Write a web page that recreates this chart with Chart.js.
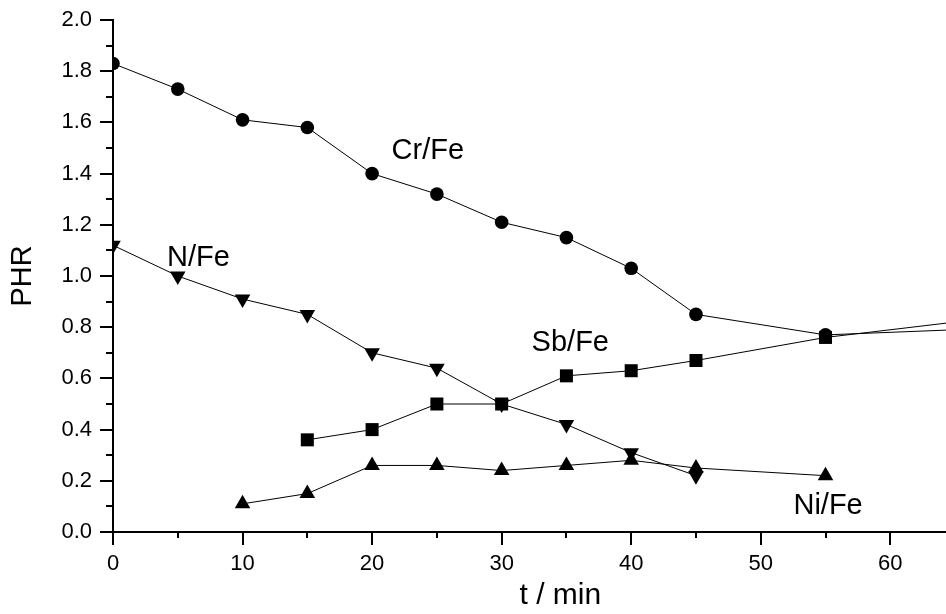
<!DOCTYPE html>
<html>
<head>
<meta charset="utf-8">
<script src="https://cdn.jsdelivr.net/npm/chart.js@4"></script>
<style>
  body { margin: 0; background: #fff; }
  #wrap { width: 946px; height: 614px; }
</style>
</head>
<body>
<div id="wrap"><canvas id="phrChart"></canvas></div>
<script>
// time points (min); last one lies past the visible axis end
const times = [0, 5, 10, 15, 20, 25, 30, 35, 40, 45, 55, 65];
const crFe = [1.83, 1.73, 1.61, 1.58, 1.40, 1.32, 1.21, 1.15, 1.03, 0.85, 0.77, 0.79];
const sbFe = [null, null, null, 0.36, 0.40, 0.50, 0.50, 0.61, 0.63, 0.67, 0.76, 0.82];
const nFe = [1.12, 1.00, 0.91, 0.85, 0.70, 0.64, 0.50, 0.42, 0.31, 0.22, null, null];
const niFe = [null, null, 0.11, 0.15, 0.26, 0.26, 0.24, 0.26, 0.28, 0.25, 0.22, null];

// series labels placed in data coordinates
const seriesLabels = ['Cr/Fe', 'N/Fe', 'Sb/Fe', 'Ni/Fe'];
const labelX = [24.3, 6.6, 35.3, 55.2];
const labelY = [1.49, 1.07, 0.74, 0.10];

const xMajor = [0, 10, 20, 30, 40, 50, 60];
const xMinor = [5, 15, 25, 35, 45, 55];
const yMajor = [0, 0.2, 0.4, 0.6, 0.8, 1.0, 1.2, 1.4, 1.6, 1.8, 2.0];
const yMinor = [0.1, 0.3, 0.5, 0.7, 0.9, 1.1, 1.3, 1.5, 1.7, 1.9];

const FONT = '"Liberation Sans", Arial, sans-serif';

function toPoints(values) {
    const pts = [];
    values.forEach((v, i) => {
        if (v !== null) pts.push({ x: times[i], y: v });
    });
    return pts;
}

function series(values, style, rotation, radius) {
    return {
        data: toPoints(values),
        borderColor: '#000',
        borderWidth: 1,
        backgroundColor: '#000',
        pointBackgroundColor: '#000',
        pointBorderWidth: 0,
        pointStyle: style,
        pointRotation: rotation,
        pointRadius: radius,
        pointHoverRadius: radius,
        tension: 0
    };
}

// ticks, axis title and series labels
const decorations = {
    id: 'decorations',
    afterDraw(chart) {
        const ctx = chart.ctx;
        const xs = chart.scales.x;
        const ys = chart.scales.y;
        const area = chart.chartArea;
        ctx.save();
        ctx.strokeStyle = '#000';
        ctx.lineWidth = 2;
        ctx.beginPath();
        yMajor.forEach(v => {
            const py = Math.round(ys.getPixelForValue(v));
            ctx.moveTo(area.left - 13, py);
            ctx.lineTo(area.left, py);
        });
        yMinor.forEach(v => {
            const py = Math.round(ys.getPixelForValue(v));
            ctx.moveTo(area.left - 7, py);
            ctx.lineTo(area.left, py);
        });
        xMajor.forEach(v => {
            const px = Math.round(xs.getPixelForValue(v));
            ctx.moveTo(px, area.bottom);
            ctx.lineTo(px, area.bottom + 13);
        });
        xMinor.forEach(v => {
            const px = Math.round(xs.getPixelForValue(v));
            ctx.moveTo(px, area.bottom);
            ctx.lineTo(px, area.bottom + 6);
        });
        ctx.stroke();

        ctx.fillStyle = '#000';
        ctx.textAlign = 'center';
        ctx.textBaseline = 'middle';
        ctx.font = '29px ' + FONT;
        seriesLabels.forEach((t, i) => {
            ctx.fillText(t, xs.getPixelForValue(labelX[i]), ys.getPixelForValue(labelY[i]));
        });
        ctx.font = '30px ' + FONT;
        ctx.fillText('t / min', area.left + (area.right - area.left) * 0.537, 596);
        ctx.restore();
    }
};

new Chart(document.getElementById('phrChart'), {
    type: 'line',
    data: {
        datasets: [
            series(crFe, 'circle', 0, 6.8),
            series(sbFe, 'rect', 0, 9.2),
            series(nFe, 'triangle', 180, 9),
            series(niFe, 'triangle', 0, 9)
        ]
    },
    options: {
        responsive: true,
        maintainAspectRatio: false,
        animation: false,
        layout: { autoPadding: false, padding: { left: 0, right: 0, top: 20, bottom: 0 } },
        plugins: {
            legend: { display: false },
            tooltip: { enabled: false }
        },
        scales: {
            x: {
                type: 'linear',
                min: 0,
                max: 64.3,
                afterFit: (scale) => {
                    scale.height = 82;
                    scale.paddingLeft = 0;
                    scale.paddingRight = 0;
                },
                grid: { drawOnChartArea: false, drawTicks: false },
                border: { display: true, color: '#000', width: 2 },
                ticks: {
                    stepSize: 10,
                    includeBounds: false,
                    autoSkip: false,
                    maxRotation: 0,
                    padding: 19,
                    color: '#000',
                    font: { family: FONT, size: 22 }
                }
            },
            y: {
                min: 0,
                max: 2.0,
                afterFit: (scale) => {
                    scale.width = 113;
                    scale.paddingTop = 0;
                    scale.paddingBottom = 0;
                },
                grid: { drawOnChartArea: false, drawTicks: false },
                border: { display: true, color: '#000', width: 2 },
                title: {
                    display: true,
                    text: 'PHR',
                    color: '#000',
                    font: { family: FONT, size: 29 },
                    padding: { top: 6, bottom: 0 }
                },
                ticks: {
                    stepSize: 0.2,
                    padding: 21,
                    color: '#000',
                    font: { family: FONT, size: 22 },
                    callback: (v) => v.toFixed(1)
                }
            }
        }
    },
    plugins: [decorations]
});
</script>
</body>
</html>
